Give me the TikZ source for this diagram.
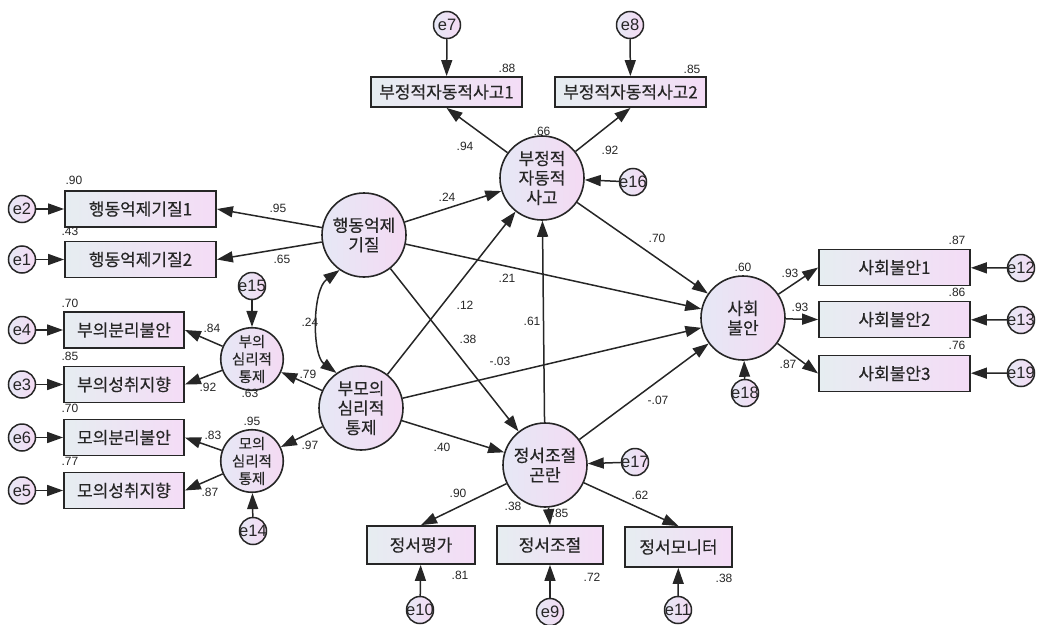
\documentclass[tikz,border=0pt]{standalone}
\usepackage{fontspec}
\setmainfont{Liberation Sans}
\newfontfamily\kr[FakeBold=0.3]{Noto Sans CJK KR}
\usetikzlibrary{arrows.meta}
\definecolor{boxl}{HTML}{E6EDF1}
\definecolor{boxr}{HTML}{F4DCF6}
\definecolor{circl}{HTML}{E6E8F5}
\definecolor{circr}{HTML}{F4DAF3}
\definecolor{ink}{HTML}{262626}
\tikzset{
  >={Triangle[length=16pt,width=11pt]},
  obs/.style={draw=ink,line width=1.8pt,left color=boxl,right color=boxr,
    minimum height=36pt,inner sep=0pt,text=ink,font=\kr\fontsize{17}{18}\selectfont},
  lat/.style={circle,draw=ink,line width=1.6pt,left color=circl,right color=circr,
    minimum size=84pt,inner sep=0pt,align=center,text=ink,font=\kr\fontsize{17}{19.5}\selectfont},
  sublat/.style={lat,minimum size=56pt,font=\kr\fontsize{14.5}{17.5}\selectfont},
  err/.style={circle,draw=ink,line width=1.5pt,left color=circl,right color=circr,
    minimum size=27pt,inner sep=0pt},
  elab/.style={text=ink,inner sep=0pt,font=\fontsize{16.5}{16}\selectfont},
  est/.style={text=ink,inner sep=0pt,font=\fontsize{12}{12}\selectfont},
  arr/.style={draw=ink,line width=1.5pt,->}
}
\begin{document}
\begin{tikzpicture}[x=1pt,y=-1pt]
\useasboundingbox (0,0) rectangle (1039,624);

\node[lat] (hb) at (364,235) {행동억제\\기질};
\node[lat] (pm) at (361,408) {부모의\\심리적\\통제};
\node[lat] (ng) at (542,178) {부정적\\자동적\\사고};
\node[lat] (ed) at (545,465) {정서조절\\곤란};
\node[lat] (sa) at (743,318) {사회\\불안};
\node[sublat] (fp) at (252,359) {부의\\심리적\\통제};
\node[sublat] (mp) at (252,461) {모의\\심리적\\통제};

\node[obs,minimum width=151pt] (hb1) at (140.5,209) {행동억제기질1};
\node[obs,minimum width=151pt] (hb2) at (140.5,259.5) {행동억제기질2};
\node[obs,minimum width=120pt] (fp1) at (124,330) {부의분리불안};
\node[obs,minimum width=120pt] (fp2) at (124,384.5) {부의성취지향};
\node[obs,minimum width=120pt] (mp1) at (124,437.5) {모의분리불안};
\node[obs,minimum width=120pt] (mp2) at (124,490.5) {모의성취지향};
\node[obs,minimum width=151pt,minimum height=30pt] (ng1) at (446.5,92) {부정적자동적사고1};
\node[obs,minimum width=151pt,minimum height=30pt] (ng2) at (630.5,92) {부정적자동적사고2};
\node[obs,minimum width=151pt] (sa1) at (894.5,267.5) {사회불안1};
\node[obs,minimum width=151pt] (sa2) at (894.5,319.5) {사회불안2};
\node[obs,minimum width=151pt] (sa3) at (894.5,373.5) {사회불안3};
\node[obs,minimum width=108pt,minimum height=38pt] (ed1) at (421,545) {정서평가};
\node[obs,minimum width=106pt,minimum height=38pt] (ed2) at (550,545) {정서조절};
\node[obs,minimum width=107pt,minimum height=40pt] (ed3) at (678.5,547) {정서모니터};

\foreach \n/\x/\y in {e2/22/209,e1/22/259.5,e4/22/330,e3/22/384.5,e6/22/437.5,e5/22/490.5,
  e15/252/286,e14/253/531,e7/447/25,e8/630/25,e16/633/182,e17/635/462,e18/745/393,
  e12/1021/268,e13/1021/320,e19/1021/373,e10/420/610,e9/550/612,e11/678/610}
  \node[err,label={[elab]center:\n}] (\n) at (\x,\y) {};

\foreach \a/\b in {e2/hb1,e1/hb2,e4/fp1,e3/fp2,e6/mp1,e5/mp2,e15/fp,e14/mp,e7/ng1,e8/ng2,
  e16/ng,e17/ed,e18/sa,e12/sa1,e13/sa2,e19/sa3,e10/ed1,e9/ed2,e11/ed3,
  hb/ng,hb/sa,hb/ed,pm/fp,pm/mp,pm/ng,pm/sa,pm/ed,ed/ng,ed/sa,ng/sa}
  \draw[arr] (\a) -- (\b);
\draw[arr] (hb) -- (hb1.east);
\draw[arr] (hb) -- (hb2.east);
\draw[arr] (fp) -- (fp1.east);
\draw[arr] (fp) -- (fp2.east);
\draw[arr] (mp) -- (mp1.east);
\draw[arr] (mp) -- (mp2.east);
\draw[arr] (ng) -- (ng1.south);
\draw[arr] (ng) -- (ng2.south);
\draw[arr] (sa) -- (sa1.west);
\draw[arr] (sa) -- (sa2.west);
\draw[arr] (sa) -- (sa3.west);
\draw[arr] (ed) -- (ed1.north);
\draw[arr] (ed) -- (ed2.north);
\draw[arr] (ed) -- (ed3.north);
\draw[arr,<->] (hb.235) .. controls (312,290) and (312,355) .. (pm.125);

\foreach \v/\x/\y [count=\i] in {.90/74/180,.43/70/231,.70/70/303,.85/70/356,.70/70/408,
  .77/70/461,.63/250/393,.95/252/421,.88/507/68,.85/692/69,.66/542/131,.60/743/267,
  .87/957/240,.86/957/292,.76/957/345,.81/460/575,.72/592/577,.38/724/578,.38/513/506}
  \node[est] (r\i) at (\x,\y) {\v};
\foreach \v/\x/\y [count=\i] in {.95/278/208,.65/282/259,.84/212/328,.92/208/387,
  .79/308/374,.97/310/445,.83/213/435,.87/210/492,.24/310/322,.24/447/197,.94/465/146,
  .92/610/150,.21/507/278,.12/465/305,.61/532/321,.38/468/339,-.03/500/361,-.07/658/400,
  .70/657/238,.40/442/447,.90/458/493,.85/560/513,.62/640/495,.93/790/273,.93/800/307,
  .87/788/364}
  \node[est] (k\i) at (\x,\y) {\v};
\end{tikzpicture}
\end{document}
